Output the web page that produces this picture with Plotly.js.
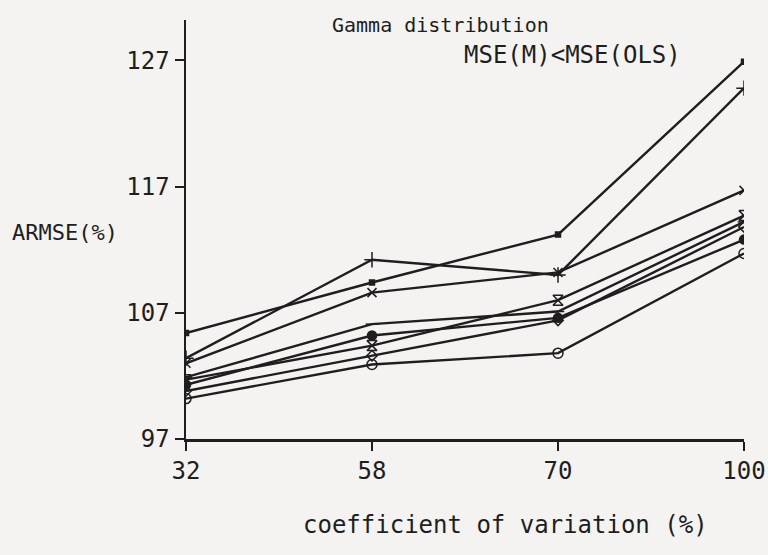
<!DOCTYPE html>
<html>
<head>
<meta charset="utf-8">
<script src="https://cdn.plot.ly/plotly-3.0.1.min.js"></script>
<style>
  html, body { margin: 0; padding: 0; background: #f4f3f1; }
  #chart { width: 768px; height: 555px; }
</style>
</head>
<body>
<div id="chart"></div>
<script>
// Categories (coefficient of variation, %)
const cvLabels = ['32', '58', '70', '100'];

// ARMSE(%) series
const seriesDot       = [105.4, 109.4, 113.2, 126.9];
const seriesPlus      = [103.4, 111.2, 110.0, 124.8];
const seriesCross     = [103.0, 108.6, 110.2, 116.7];
const seriesHourglass = [101.7, 104.4, 108.0, 114.7];
const seriesDash      = [101.9, 106.1, 107.1, 114.2];
const seriesSmallOpen = [100.8, 103.6, 106.4, 113.8];
const seriesFilled    = [101.3, 105.2, 106.6, 112.8];
const seriesOpen      = [100.2, 102.9, 103.8, 111.7];

const yTicks = [97, 107, 117, 127];

const ink = '#1e1e1e';
const font = 'DejaVu Sans Mono, Liberation Mono, monospace';

function tr(y, symbol, size) {
  return {
    x: cvLabels, y: y, type: 'scatter', mode: 'lines+markers',
    line: { color: ink, width: 2.4 },
    marker: { symbol: symbol, size: size, color: ink, line: { color: ink, width: 1.5 } },
    showlegend: false, hoverinfo: 'x+y'
  };
}

const data = [
  tr(seriesDot, 'square', 5),
  tr(seriesPlus, 'cross-thin-open', 11),
  tr(seriesCross, 'x-thin-open', 9),
  tr(seriesHourglass, 'hourglass-open', 10),
  tr(seriesDash, 'line-ew-open', 9),
  tr(seriesSmallOpen, 'diamond-open', 8),
  tr(seriesFilled, 'circle', 9),
  tr(seriesOpen, 'circle-open', 10)
];

const layout = {
  width: 768, height: 555,
  margin: { l: 186, r: 24, t: 20, b: 116 },
  paper_bgcolor: '#f4f3f1', plot_bgcolor: '#f4f3f1',
  font: { family: font, color: ink, size: 24 },
  xaxis: {
    type: 'category', range: [0, 3],
    showline: true, linecolor: ink, linewidth: 2.5,
    showgrid: false, zeroline: false,
    ticks: 'outside', ticklen: 9, tickwidth: 2, tickcolor: ink,
    tickfont: { family: font, size: 24, color: ink }
  },
  yaxis: {
    range: [97, 130.2],
    tickvals: yTicks, ticktext: yTicks.map(String),
    showline: true, linecolor: ink, linewidth: 2.5,
    showgrid: false, zeroline: false,
    ticks: 'outside', ticklen: 9, tickwidth: 2, tickcolor: ink,
    tickfont: { family: font, size: 24, color: ink }
  },
  annotations: [
    { text: 'Gamma distribution', xref: 'paper', yref: 'paper',
      x: 0.258, y: 0.988, xanchor: 'left', yanchor: 'middle', showarrow: false,
      font: { family: font, size: 20, color: ink } },
    { text: 'MSE(M)&lt;MSE(OLS)', xref: 'paper', yref: 'paper',
      x: 0.495, y: 0.916, xanchor: 'left', yanchor: 'middle', showarrow: false,
      font: { family: font, size: 24, color: ink } },
    { text: 'ARMSE(%)', xref: 'paper', yref: 'paper',
      x: -0.315, y: 0.494, xanchor: 'left', yanchor: 'middle', showarrow: false,
      font: { family: font, size: 22, color: ink } },
    { text: 'coefficient of variation (%)', xref: 'paper', yref: 'paper',
      x: 0.572, y: -0.205, xanchor: 'center', yanchor: 'middle', showarrow: false,
      font: { family: font, size: 24, color: ink } }
  ]
};

Plotly.newPlot('chart', data, layout, { displayModeBar: false, staticPlot: true });
</script>
</body>
</html>
